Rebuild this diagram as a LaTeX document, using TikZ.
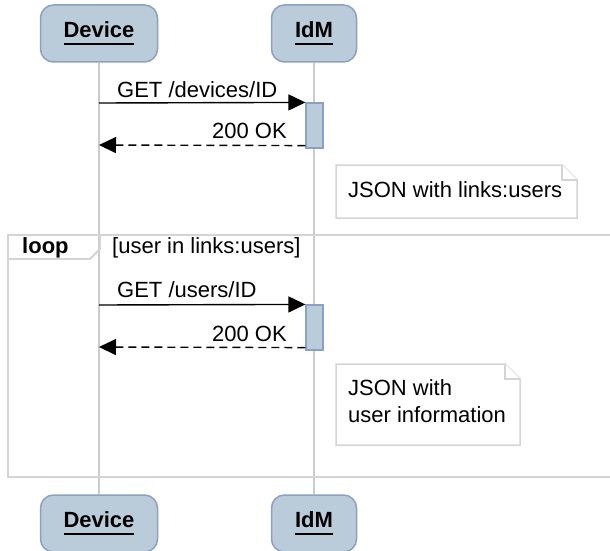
\documentclass[tikz,border=0pt]{standalone}
\usepackage{fontspec}
\setmainfont{Liberation Sans}
\usetikzlibrary{arrows.meta,positioning}

\definecolor{actorfill}{HTML}{BACBD9}
\definecolor{actorline}{HTML}{8C9FC4}
\definecolor{lifegray}{HTML}{CCCCCC}
\definecolor{notegray}{HTML}{D4D4D4}

% underlined participant name
\newcommand{\ulname}[1]{\setbox0\hbox{#1}\rlap{\rule[-7.5pt]{\wd0}{1.8pt}}\box0}

\tikzset{
  actor/.style={draw=actorline, fill=actorfill, line width=1.5pt, rounded corners=13pt,
    minimum height=57pt, inner sep=0pt, font=\fontsize{22}{27}\selectfont\bfseries},
  activebar/.style={draw=actorline, fill=actorfill, line width=1.2pt,
    minimum width=17pt, minimum height=45pt, inner sep=0pt},
  lifeline/.style={draw=lifegray, line width=1.8pt},
  msg/.style={line width=1.4pt, -{Triangle[length=17pt,width=16pt]}},
  reply/.style={msg, dash pattern=on 8pt off 5pt},
  notebox/.style={draw=notegray, line width=1.5pt, fill=white},
  framebox/.style={draw=notegray, line width=1.8pt},
  txt/.style={inner sep=0pt, anchor=base west},
}

\begin{document}
\begin{tikzpicture}[x=1pt,y=-1pt,font=\fontsize{22}{27}\selectfont]
\useasboundingbox (0,0) rectangle (610,551);
\clip (0,0) rectangle (610,551);

% participants
\node[actor, minimum width=117pt] (devtop) at (99,33.5) {\ulname{Device}};
\node[actor, minimum width=85pt] (idmtop) at (314,33.5) {\ulname{IdM}};
\node[actor, minimum width=117pt] (devbot) at (99,523.5) {\ulname{Device}};
\node[actor, minimum width=85pt] (idmbot) at (314,523.5) {\ulname{IdM}};

% lifelines
\draw[lifeline] (devtop) -- (devbot);
\draw[lifeline] (idmtop) -- (idmbot);

% loop frame
\draw[framebox] (8,235) rectangle (616,477);
\draw[framebox] (8,259) -- (90,259) -- (100,249) -- (100,235);
\node[txt, font=\fontsize{22}{27}\selectfont\bfseries] (looplbl) at (22,253) {loop};
\node[txt] (guard) at (112,253) {[user in links:users]};

% activations
\node[activebar] (act1) at (314.5,125.5) {};
\node[activebar] (act2) at (314.5,327.5) {};

% first request
\coordinate (req1) at (99,103);
\coordinate (ret1) at (99,145);
\draw[msg] (req1) -- (act1.north west);
\draw[reply] ([yshift=3pt]act1.south west) -- (ret1);
\node[txt] (req1lbl) at (117,97) {GET /devices/ID};
\node[txt, anchor=base east] (ret1lbl) at (287,138) {200 OK};

% second request
\coordinate (req2) at (99,305);
\coordinate (ret2) at (99,347);
\draw[msg] (req2) -- (act2.north west);
\draw[reply] ([yshift=3pt]act2.south west) -- (ret2);
\node[txt] (req2lbl) at (117,297) {GET /users/ID};
\node[txt, anchor=base east] (ret2lbl) at (287,341) {200 OK};

% notes
\draw[notebox] (336,165) -- (562,165) -- (577,180) -- (577,218) -- (336,218) -- cycle;
\draw[notebox] (562,165) -- (562,180) -- (577,180);
\node[txt] (note1) at (348,197) {JSON with links:users};

\draw[notebox] (336,364) -- (505,364) -- (520,379) -- (520,445) -- (336,445) -- cycle;
\draw[notebox] (505,364) -- (505,379) -- (520,379);
\node[txt, anchor=north west, align=left] (note2) at (348,379) {JSON with\\user information};
\end{tikzpicture}
\end{document}
